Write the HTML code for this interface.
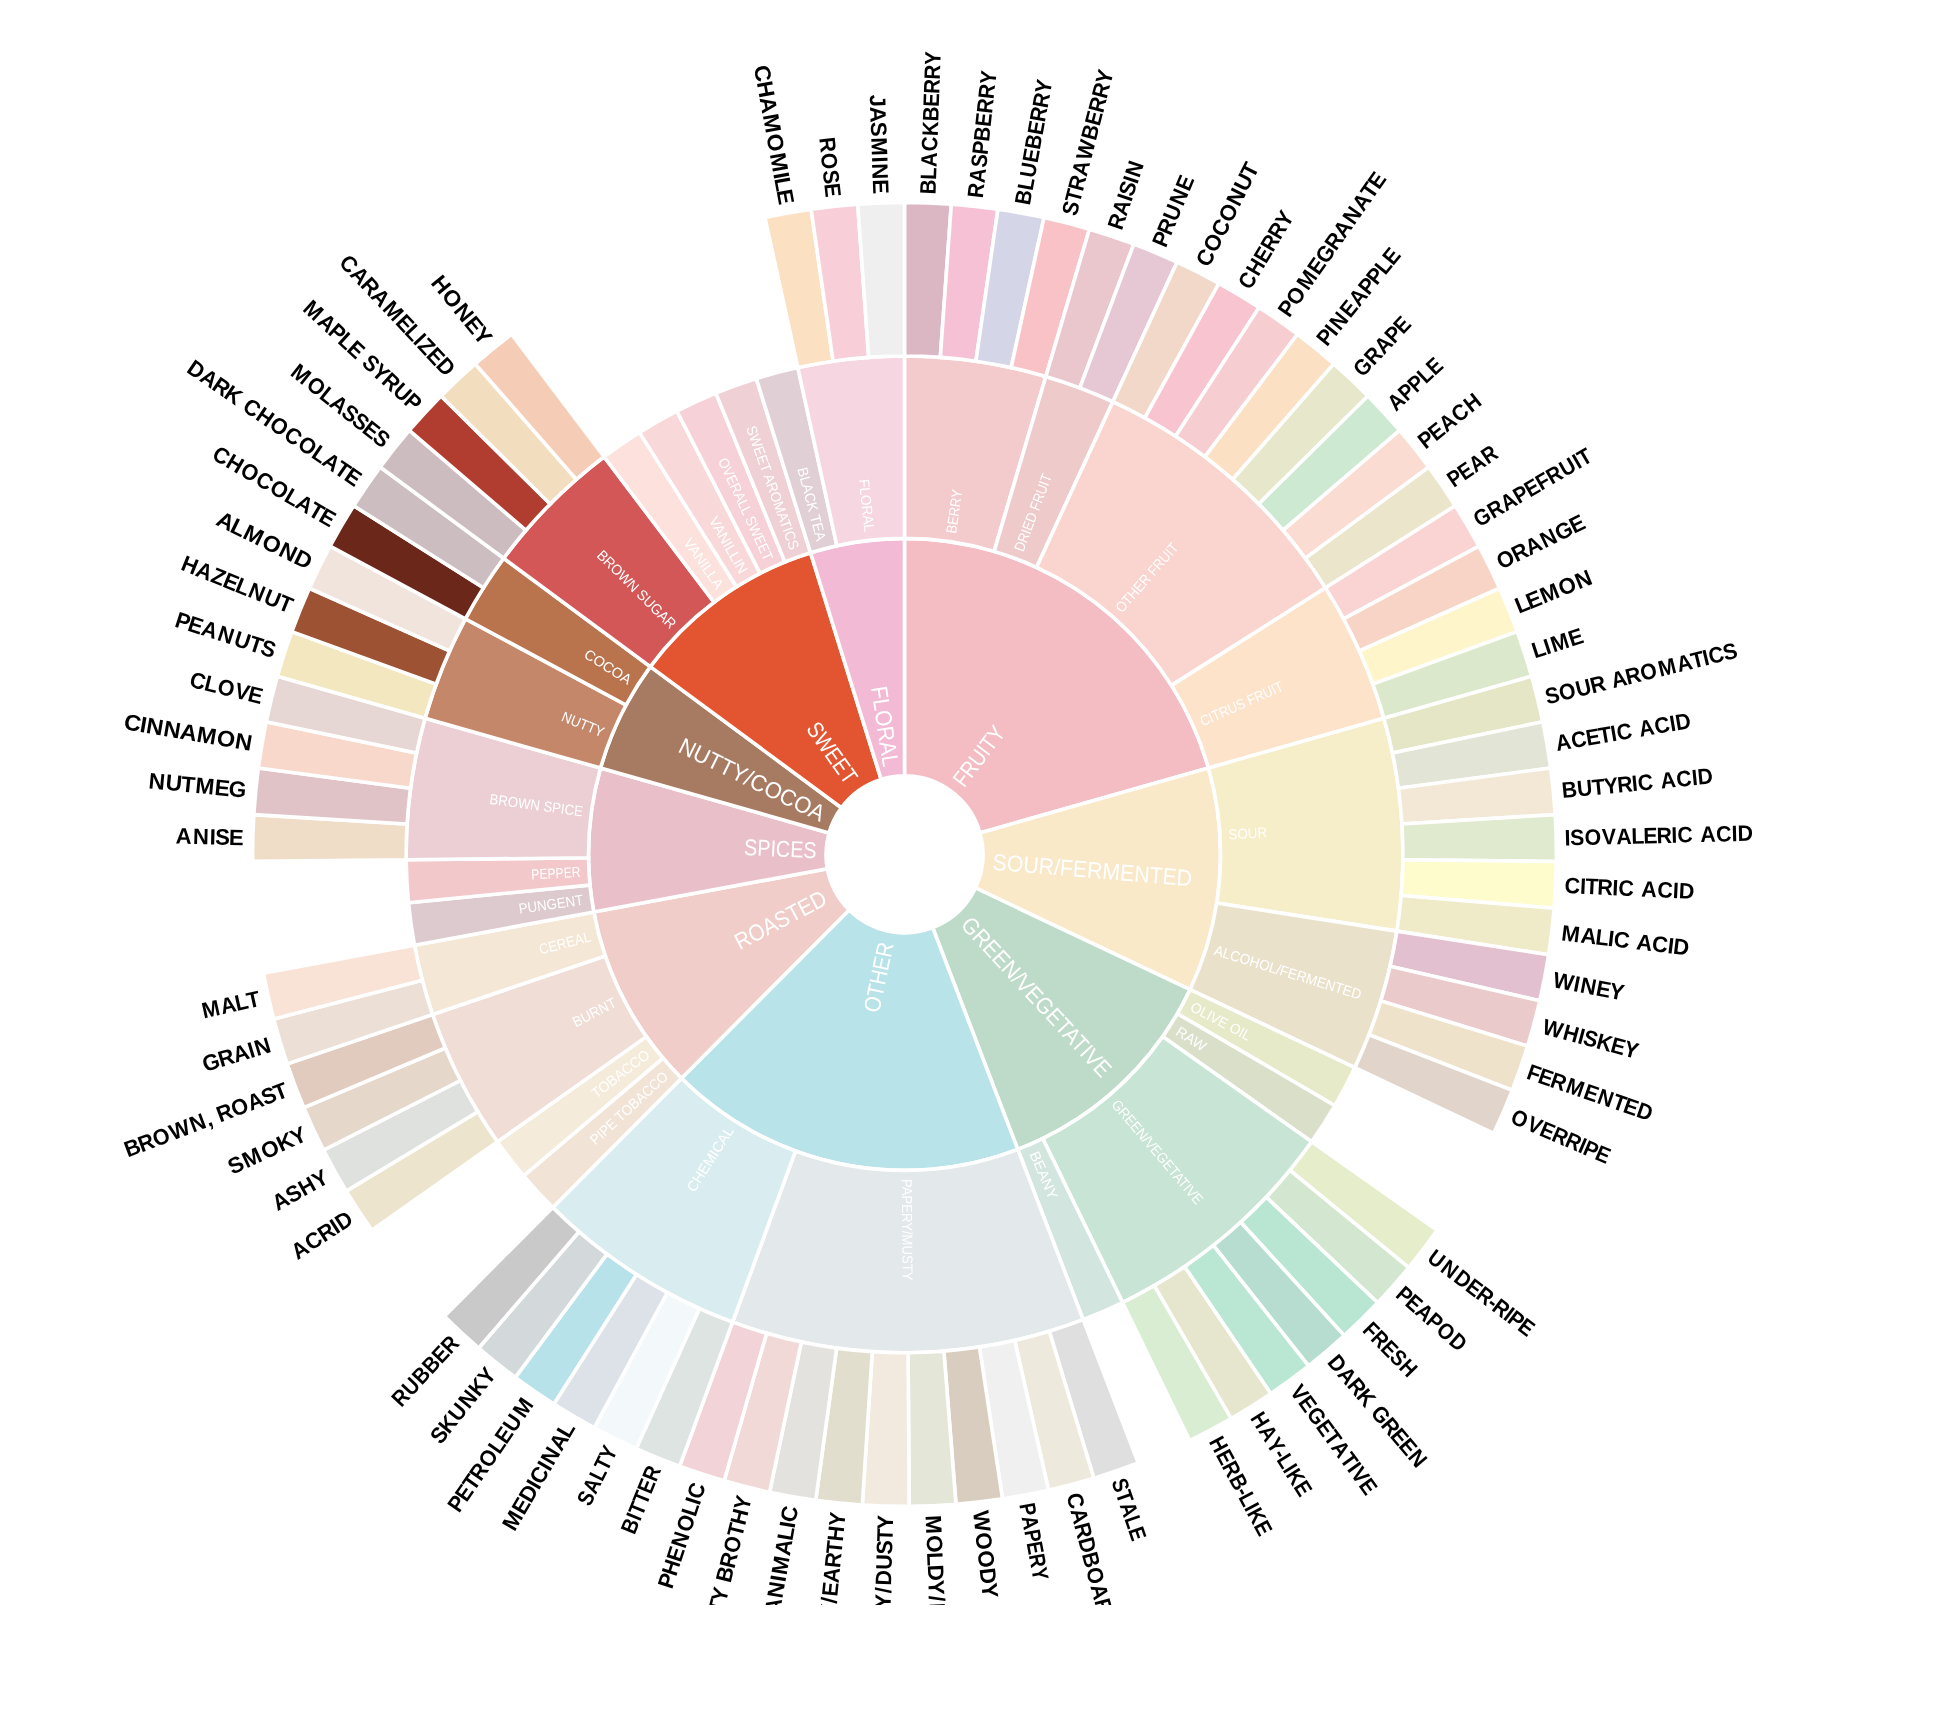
<!DOCTYPE html>
<html><head><meta charset="utf-8"><style>
html,body{margin:0;padding:0;background:#fff;}
svg{display:block;will-change:transform;}
.arcs path{stroke:#fff;stroke-width:3.6;}
text{font-family:"Liberation Sans",sans-serif;dominant-baseline:central;}
.l1{fill:#fff;font-size:23px;}
.l2{fill:#fff;font-size:14.5px;}
.l3{fill:#000;font-size:22.4px;font-weight:bold;}
</style></head>
<body><svg width="1946" height="1733" viewBox="0 0 1946 1733">
<defs><clipPath id="c"><rect x="0" y="0" width="1946" height="1605"/></clipPath></defs>
<g clip-path="url(#c)"><g class="arcs"><path d="M904.50,538.40A316.0,316.0 0 0 1 1208.47,768.05L980.01,832.95A78.5,78.5 0 0 0 904.50,775.90Z" fill="#F4BDC3"/><path d="M1208.47,768.05A316.0,316.0 0 0 1 1190.12,989.60L975.45,887.99A78.5,78.5 0 0 0 980.01,832.95Z" fill="#F9E9C9"/><path d="M1190.12,989.60A316.0,316.0 0 0 1 1017.78,1149.40L932.64,927.68A78.5,78.5 0 0 0 975.45,887.99Z" fill="#BEDBC9"/><path d="M1017.78,1149.40A316.0,316.0 0 0 1 681.46,1078.25L849.09,910.01A78.5,78.5 0 0 0 932.64,927.68Z" fill="#B8E3E9"/><path d="M681.46,1078.25A316.0,316.0 0 0 1 593.79,912.01L827.32,868.71A78.5,78.5 0 0 0 849.09,910.01Z" fill="#F0CDC8"/><path d="M593.79,912.01A316.0,316.0 0 0 1 600.53,768.05L828.99,832.95A78.5,78.5 0 0 0 827.32,868.71Z" fill="#E9C0CA"/><path d="M600.53,768.05A316.0,316.0 0 0 1 650.33,666.64L841.36,807.76A78.5,78.5 0 0 0 828.99,832.95Z" fill="#A77A62"/><path d="M650.33,666.64A316.0,316.0 0 0 1 810.53,552.70L881.16,779.45A78.5,78.5 0 0 0 841.36,807.76Z" fill="#E35531"/><path d="M810.53,552.70A316.0,316.0 0 0 1 904.50,538.40L904.50,775.90A78.5,78.5 0 0 0 881.16,779.45Z" fill="#F3BAD6"/><path d="M904.50,356.05A498.35,498.35 0 0 1 1045.84,376.51L994.12,551.38A316.0,316.0 0 0 0 904.50,538.40Z" fill="#F4CBCC"/><path d="M1045.84,376.51A498.35,498.35 0 0 1 1112.85,401.70L1036.62,567.34A316.0,316.0 0 0 0 994.12,551.38Z" fill="#EECACB"/><path d="M1112.85,401.70A498.35,498.35 0 0 1 1325.58,587.85L1171.50,685.39A316.0,316.0 0 0 0 1036.62,567.34Z" fill="#FAD4CE"/><path d="M1325.58,587.85A498.35,498.35 0 0 1 1383.88,718.22L1208.47,768.05A316.0,316.0 0 0 0 1171.50,685.39Z" fill="#FCE3CA"/><path d="M1383.88,718.22A498.35,498.35 0 0 1 1396.91,931.12L1216.73,903.05A316.0,316.0 0 0 0 1208.47,768.05Z" fill="#F6EDC9"/><path d="M1396.91,931.12A498.35,498.35 0 0 1 1354.93,1067.62L1190.12,989.60A316.0,316.0 0 0 0 1216.73,903.05Z" fill="#EAE1CB"/><path d="M1354.93,1067.62A498.35,498.35 0 0 1 1334.88,1105.64L1177.40,1013.71A316.0,316.0 0 0 0 1190.12,989.60Z" fill="#E6EAC9"/><path d="M1334.88,1105.64A498.35,498.35 0 0 1 1311.64,1141.79L1162.66,1036.63A316.0,316.0 0 0 0 1177.40,1013.71Z" fill="#D9DFC9"/><path d="M1311.64,1141.79A498.35,498.35 0 0 1 1122.57,1302.51L1042.78,1138.54A316.0,316.0 0 0 0 1162.66,1036.63Z" fill="#C7E4D4"/><path d="M1122.57,1302.51A498.35,498.35 0 0 1 1083.15,1319.63L1017.78,1149.40A316.0,316.0 0 0 0 1042.78,1138.54Z" fill="#D3E5DF"/><path d="M1083.15,1319.63A498.35,498.35 0 0 1 732.56,1322.15L795.47,1151.00A316.0,316.0 0 0 0 1017.78,1149.40Z" fill="#E3E8EB"/><path d="M732.56,1322.15A498.35,498.35 0 0 1 552.75,1207.42L681.46,1078.25A316.0,316.0 0 0 0 795.47,1151.00Z" fill="#D9EDF0"/><path d="M552.75,1207.42A498.35,498.35 0 0 1 523.64,1175.80L663.00,1058.20A316.0,316.0 0 0 0 681.46,1078.25Z" fill="#F1E3D6"/><path d="M523.64,1175.80A498.35,498.35 0 0 1 497.36,1141.79L646.34,1036.63A316.0,316.0 0 0 0 663.00,1058.20Z" fill="#F5EBDB"/><path d="M497.36,1141.79A498.35,498.35 0 0 1 432.57,1014.52L605.25,955.93A316.0,316.0 0 0 0 646.34,1036.63Z" fill="#EFDDD6"/><path d="M432.57,1014.52A498.35,498.35 0 0 1 414.50,945.25L593.79,912.01A316.0,316.0 0 0 0 605.25,955.93Z" fill="#F5E7D5"/><path d="M414.50,945.25A498.35,498.35 0 0 1 408.50,902.69L589.99,885.02A316.0,316.0 0 0 0 593.79,912.01Z" fill="#DCCACE"/><path d="M408.50,902.69A498.35,498.35 0 0 1 406.18,859.77L588.52,857.81A316.0,316.0 0 0 0 589.99,885.02Z" fill="#F2C8CA"/><path d="M406.18,859.77A498.35,498.35 0 0 1 425.12,718.22L600.53,768.05A316.0,316.0 0 0 0 588.52,857.81Z" fill="#EBCFD4"/><path d="M425.12,718.22A498.35,498.35 0 0 1 465.36,618.79L626.05,705.00A316.0,316.0 0 0 0 600.53,768.05Z" fill="#C5876A"/><path d="M465.36,618.79A498.35,498.35 0 0 1 503.66,558.30L650.33,666.64A316.0,316.0 0 0 0 626.05,705.00Z" fill="#B9744E"/><path d="M503.66,558.30A498.35,498.35 0 0 1 604.09,456.77L714.01,602.27A316.0,316.0 0 0 0 650.33,666.64Z" fill="#D45757"/><path d="M604.09,456.77A498.35,498.35 0 0 1 639.47,432.37L736.45,586.79A316.0,316.0 0 0 0 714.01,602.27Z" fill="#FCE1DC"/><path d="M639.47,432.37A498.35,498.35 0 0 1 676.82,411.10L760.13,573.31A316.0,316.0 0 0 0 736.45,586.79Z" fill="#F9D8DA"/><path d="M676.82,411.10A498.35,498.35 0 0 1 715.86,393.13L784.89,561.91A316.0,316.0 0 0 0 760.13,573.31Z" fill="#F6D1D8"/><path d="M715.86,393.13A498.35,498.35 0 0 1 756.31,378.59L810.53,552.70A316.0,316.0 0 0 0 784.89,561.91Z" fill="#EFD0D5"/><path d="M756.31,378.59A498.35,498.35 0 0 1 797.85,367.60L836.88,545.72A316.0,316.0 0 0 0 810.53,552.70Z" fill="#E1CFD6"/><path d="M797.85,367.60A498.35,498.35 0 0 1 904.50,356.05L904.50,538.40A316.0,316.0 0 0 0 836.88,545.72Z" fill="#F5D6E1"/><path d="M904.50,202.50A651.9,651.9 0 0 1 951.32,204.18L940.30,357.34A498.35,498.35 0 0 0 904.50,356.05Z" fill="#DBB7C3"/><path d="M951.32,204.18A651.9,651.9 0 0 1 997.91,209.23L975.91,361.19A498.35,498.35 0 0 0 940.30,357.34Z" fill="#F7C1D5"/><path d="M997.91,209.23A651.9,651.9 0 0 1 1044.01,217.60L1011.15,367.60A498.35,498.35 0 0 0 975.91,361.19Z" fill="#D5D5E8"/><path d="M1044.01,217.60A651.9,651.9 0 0 1 1089.39,229.27L1045.84,376.51A498.35,498.35 0 0 0 1011.15,367.60Z" fill="#F9C2C6"/><path d="M1089.39,229.27A651.9,651.9 0 0 1 1133.81,244.16L1079.80,387.90A498.35,498.35 0 0 0 1045.84,376.51Z" fill="#EAC6CD"/><path d="M1133.81,244.16A651.9,651.9 0 0 1 1177.05,262.21L1112.85,401.70A498.35,498.35 0 0 0 1079.80,387.90Z" fill="#E6C8D5"/><path d="M1177.05,262.21A651.9,651.9 0 0 1 1218.88,283.32L1144.83,417.83A498.35,498.35 0 0 0 1112.85,401.70Z" fill="#F1D8C9"/><path d="M1218.88,283.32A651.9,651.9 0 0 1 1259.09,307.37L1175.57,436.22A498.35,498.35 0 0 0 1144.83,417.83Z" fill="#F7C4D0"/><path d="M1259.09,307.37A651.9,651.9 0 0 1 1297.47,334.26L1204.91,456.77A498.35,498.35 0 0 0 1175.57,436.22Z" fill="#F6CED2"/><path d="M1297.47,334.26A651.9,651.9 0 0 1 1333.81,363.83L1232.69,479.38A498.35,498.35 0 0 0 1204.91,456.77Z" fill="#FBE0C4"/><path d="M1333.81,363.83A651.9,651.9 0 0 1 1367.94,395.93L1258.78,503.92A498.35,498.35 0 0 0 1232.69,479.38Z" fill="#E7E8CB"/><path d="M1367.94,395.93A651.9,651.9 0 0 1 1399.68,430.40L1283.04,530.27A498.35,498.35 0 0 0 1258.78,503.92Z" fill="#CDE9D2"/><path d="M1399.68,430.40A651.9,651.9 0 0 1 1428.85,467.06L1305.34,558.30A498.35,498.35 0 0 0 1283.04,530.27Z" fill="#FBDCD3"/><path d="M1428.85,467.06A651.9,651.9 0 0 1 1455.32,505.73L1325.58,587.85A498.35,498.35 0 0 0 1305.34,558.30Z" fill="#EAE5CB"/><path d="M1455.32,505.73A651.9,651.9 0 0 1 1478.94,546.19L1343.64,618.79A498.35,498.35 0 0 0 1325.58,587.85Z" fill="#FAD3D3"/><path d="M1478.94,546.19A651.9,651.9 0 0 1 1499.59,588.25L1359.42,650.94A498.35,498.35 0 0 0 1343.64,618.79Z" fill="#F7D4C5"/><path d="M1499.59,588.25A651.9,651.9 0 0 1 1517.17,631.68L1372.86,684.14A498.35,498.35 0 0 0 1359.42,650.94Z" fill="#FEF5CA"/><path d="M1517.17,631.68A651.9,651.9 0 0 1 1531.59,676.26L1383.88,718.22A498.35,498.35 0 0 0 1372.86,684.14Z" fill="#DCE8CB"/><path d="M1531.59,676.26A651.9,651.9 0 0 1 1542.76,721.77L1392.43,753.01A498.35,498.35 0 0 0 1383.88,718.22Z" fill="#E5E6C6"/><path d="M1542.76,721.77A651.9,651.9 0 0 1 1550.64,767.95L1398.45,788.32A498.35,498.35 0 0 0 1392.43,753.01Z" fill="#E2E4D6"/><path d="M1550.64,767.95A651.9,651.9 0 0 1 1555.18,814.59L1401.92,823.97A498.35,498.35 0 0 0 1398.45,788.32Z" fill="#F2E8D5"/><path d="M1555.18,814.59A651.9,651.9 0 0 1 1556.36,861.43L1402.82,859.77A498.35,498.35 0 0 0 1401.92,823.97Z" fill="#E0EACF"/><path d="M1556.36,861.43A651.9,651.9 0 0 1 1554.17,908.23L1401.15,895.55A498.35,498.35 0 0 0 1402.82,859.77Z" fill="#FEFBCC"/><path d="M1554.17,908.23A651.9,651.9 0 0 1 1548.63,954.76L1396.91,931.12A498.35,498.35 0 0 0 1401.15,895.55Z" fill="#EFEAC8"/><path d="M1548.63,954.76A651.9,651.9 0 0 1 1539.76,1000.77L1390.13,966.29A498.35,498.35 0 0 0 1396.91,931.12Z" fill="#E2C0D0"/><path d="M1539.76,1000.77A651.9,651.9 0 0 1 1527.60,1046.02L1380.84,1000.88A498.35,498.35 0 0 0 1390.13,966.29Z" fill="#EACACA"/><path d="M1527.60,1046.02A651.9,651.9 0 0 1 1512.23,1090.28L1369.08,1034.72A498.35,498.35 0 0 0 1380.84,1000.88Z" fill="#EEE2CB"/><path d="M1512.23,1090.28A651.9,651.9 0 0 1 1493.72,1133.32L1354.93,1067.62A498.35,498.35 0 0 0 1369.08,1034.72Z" fill="#E1D5CB"/><path d="M1437.08,1230.34A651.9,651.9 0 0 1 1408.70,1267.62L1289.94,1170.29A498.35,498.35 0 0 0 1311.64,1141.79Z" fill="#E6EDCB"/><path d="M1408.70,1267.62A651.9,651.9 0 0 1 1377.72,1302.77L1266.26,1197.16A498.35,498.35 0 0 0 1289.94,1170.29Z" fill="#D3E7D0"/><path d="M1377.72,1302.77A651.9,651.9 0 0 1 1344.29,1335.60L1240.70,1222.26A498.35,498.35 0 0 0 1266.26,1197.16Z" fill="#B9E6D3"/><path d="M1344.29,1335.60A651.9,651.9 0 0 1 1308.59,1365.95L1213.41,1245.46A498.35,498.35 0 0 0 1240.70,1222.26Z" fill="#B6DDCF"/><path d="M1308.59,1365.95A651.9,651.9 0 0 1 1270.81,1393.65L1184.53,1266.64A498.35,498.35 0 0 0 1213.41,1245.46Z" fill="#B9E7D3"/><path d="M1270.81,1393.65A651.9,651.9 0 0 1 1231.13,1418.57L1154.19,1285.68A498.35,498.35 0 0 0 1184.53,1266.64Z" fill="#E6E6CE"/><path d="M1231.13,1418.57A651.9,651.9 0 0 1 1189.76,1440.57L1122.57,1302.51A498.35,498.35 0 0 0 1154.19,1285.68Z" fill="#D8EDD1"/><path d="M1138.19,1462.97A651.9,651.9 0 0 1 1093.88,1478.19L1049.27,1331.26A498.35,498.35 0 0 0 1083.15,1319.63Z" fill="#DFDFDF"/><path d="M1093.88,1478.19A651.9,651.9 0 0 1 1048.58,1490.18L1014.64,1340.43A498.35,498.35 0 0 0 1049.27,1331.26Z" fill="#EDEADD"/><path d="M1048.58,1490.18A651.9,651.9 0 0 1 1002.54,1498.89L979.45,1347.08A498.35,498.35 0 0 0 1014.64,1340.43Z" fill="#F0F0F0"/><path d="M1002.54,1498.89A651.9,651.9 0 0 1 956.00,1504.26L943.87,1351.19A498.35,498.35 0 0 0 979.45,1347.08Z" fill="#D9CDBF"/><path d="M956.00,1504.26A651.9,651.9 0 0 1 909.19,1506.28L908.08,1352.74A498.35,498.35 0 0 0 943.87,1351.19Z" fill="#E4E6D8"/><path d="M909.19,1506.28A651.9,651.9 0 0 1 862.35,1504.94L872.28,1351.71A498.35,498.35 0 0 0 908.08,1352.74Z" fill="#F2EADF"/><path d="M862.35,1504.94A651.9,651.9 0 0 1 815.73,1500.23L836.64,1348.11A498.35,498.35 0 0 0 872.28,1351.71Z" fill="#E1DECD"/><path d="M815.73,1500.23A651.9,651.9 0 0 1 769.57,1492.18L801.35,1341.96A498.35,498.35 0 0 0 836.64,1348.11Z" fill="#E3E2DE"/><path d="M769.57,1492.18A651.9,651.9 0 0 1 724.11,1480.85L766.60,1333.29A498.35,498.35 0 0 0 801.35,1341.96Z" fill="#F0D9D7"/><path d="M724.11,1480.85A651.9,651.9 0 0 1 679.58,1466.27L732.56,1322.15A498.35,498.35 0 0 0 766.60,1333.29Z" fill="#F2D3D8"/><path d="M679.58,1466.27A651.9,651.9 0 0 1 636.21,1448.53L699.41,1308.59A498.35,498.35 0 0 0 732.56,1322.15Z" fill="#DDE4E2"/><path d="M636.21,1448.53A651.9,651.9 0 0 1 594.23,1427.73L667.31,1292.69A498.35,498.35 0 0 0 699.41,1308.59Z" fill="#F3F8FB"/><path d="M594.23,1427.73A651.9,651.9 0 0 1 553.85,1403.96L636.44,1274.52A498.35,498.35 0 0 0 667.31,1292.69Z" fill="#DCE2E8"/><path d="M553.85,1403.96A651.9,651.9 0 0 1 515.28,1377.36L606.96,1254.18A498.35,498.35 0 0 0 636.44,1274.52Z" fill="#B7E2E9"/><path d="M515.28,1377.36A651.9,651.9 0 0 1 478.72,1348.05L579.01,1231.77A498.35,498.35 0 0 0 606.96,1254.18Z" fill="#D3D9DB"/><path d="M478.72,1348.05A651.9,651.9 0 0 1 444.37,1316.19L552.75,1207.42A498.35,498.35 0 0 0 579.01,1231.77Z" fill="#C9C9C9"/><path d="M371.92,1230.34A651.9,651.9 0 0 1 346.29,1191.11L477.77,1111.80A498.35,498.35 0 0 0 497.36,1141.79Z" fill="#EDE4CE"/><path d="M346.29,1191.11A651.9,651.9 0 0 1 323.55,1150.15L460.39,1080.49A498.35,498.35 0 0 0 477.77,1111.80Z" fill="#DFE1DF"/><path d="M323.55,1150.15A651.9,651.9 0 0 1 303.80,1107.65L445.29,1048.00A498.35,498.35 0 0 0 460.39,1080.49Z" fill="#E6D7CB"/><path d="M303.80,1107.65A651.9,651.9 0 0 1 287.16,1063.85L432.57,1014.52A498.35,498.35 0 0 0 445.29,1048.00Z" fill="#E0CBBE"/><path d="M287.16,1063.85A651.9,651.9 0 0 1 273.71,1018.97L422.29,980.21A498.35,498.35 0 0 0 432.57,1014.52Z" fill="#EBDFD6"/><path d="M273.71,1018.97A651.9,651.9 0 0 1 263.52,973.24L414.50,945.25A498.35,498.35 0 0 0 422.29,980.21Z" fill="#F9E2D6"/><path d="M252.64,861.43A651.9,651.9 0 0 1 253.82,814.59L407.08,823.97A498.35,498.35 0 0 0 406.18,859.77Z" fill="#EFDDC8"/><path d="M253.82,814.59A651.9,651.9 0 0 1 258.36,767.95L410.55,788.32A498.35,498.35 0 0 0 407.08,823.97Z" fill="#E0C3C7"/><path d="M258.36,767.95A651.9,651.9 0 0 1 266.24,721.77L416.57,753.01A498.35,498.35 0 0 0 410.55,788.32Z" fill="#F8D8CB"/><path d="M266.24,721.77A651.9,651.9 0 0 1 277.41,676.26L425.12,718.22A498.35,498.35 0 0 0 416.57,753.01Z" fill="#E6D6D4"/><path d="M277.41,676.26A651.9,651.9 0 0 1 291.83,631.68L436.14,684.14A498.35,498.35 0 0 0 425.12,718.22Z" fill="#F2E7BF"/><path d="M291.83,631.68A651.9,651.9 0 0 1 309.41,588.25L449.58,650.94A498.35,498.35 0 0 0 436.14,684.14Z" fill="#9C5233"/><path d="M309.41,588.25A651.9,651.9 0 0 1 330.06,546.19L465.36,618.79A498.35,498.35 0 0 0 449.58,650.94Z" fill="#F0E4DC"/><path d="M330.06,546.19A651.9,651.9 0 0 1 353.68,505.73L483.42,587.85A498.35,498.35 0 0 0 465.36,618.79Z" fill="#6B2719"/><path d="M353.68,505.73A651.9,651.9 0 0 1 380.15,467.06L503.66,558.30A498.35,498.35 0 0 0 483.42,587.85Z" fill="#CCBDC0"/><path d="M380.15,467.06A651.9,651.9 0 0 1 409.32,430.40L525.96,530.27A498.35,498.35 0 0 0 503.66,558.30Z" fill="#CCBCBF"/><path d="M409.32,430.40A651.9,651.9 0 0 1 441.06,395.93L550.22,503.92A498.35,498.35 0 0 0 525.96,530.27Z" fill="#B03D2F"/><path d="M441.06,395.93A651.9,651.9 0 0 1 475.19,363.83L576.31,479.38A498.35,498.35 0 0 0 550.22,503.92Z" fill="#F3DDBF"/><path d="M475.19,363.83A651.9,651.9 0 0 1 511.53,334.26L604.09,456.77A498.35,498.35 0 0 0 576.31,479.38Z" fill="#F5CDB7"/><path d="M764.99,217.60A651.9,651.9 0 0 1 811.09,209.23L833.09,361.19A498.35,498.35 0 0 0 797.85,367.60Z" fill="#FBE1C2"/><path d="M811.09,209.23A651.9,651.9 0 0 1 857.68,204.18L868.70,357.34A498.35,498.35 0 0 0 833.09,361.19Z" fill="#F8CFD9"/><path d="M857.68,204.18A651.9,651.9 0 0 1 904.50,202.50L904.50,356.05A498.35,498.35 0 0 0 868.70,357.34Z" fill="#EFEFEF"/></g>
<text class="l3" x="725.30 741.32 755.25 772.57 789.37 805.53 821.46 835.86 851.53 867.29" transform="translate(904.5,854.4) rotate(-87.941) scale(0.9107,1)">BLACKBERRY</text><text class="l3" x="727.38 744.14 760.92 775.33 790.02 806.31 821.05 837.07 853.17" transform="translate(904.5,854.4) rotate(-83.822) scale(0.9080,1)">RASPBERRY</text><text class="l3" x="726.77 742.94 757.23 773.94 788.79 804.89 819.44 835.28 851.18" transform="translate(904.5,854.4) rotate(-79.703) scale(0.9090,1)">BLUEBERRY</text><text class="l3" x="709.99 724.42 737.55 753.97 771.72 794.03 810.00 824.43 840.14 855.92" transform="translate(904.5,854.4) rotate(-75.584) scale(0.9300,1)">STRAWBERRY</text><text class="l2" x="324.5" transform="translate(904.5,854.4) rotate(-81.762)" text-anchor="start" textLength="44.28" lengthAdjust="spacingAndGlyphs">BERRY</text><text class="l3" x="703.74 719.58 735.78 741.40 755.74 762.91" transform="translate(904.5,854.4) rotate(-71.465) scale(0.9379,1)">RAISIN</text><text class="l3" x="700.03 713.75 729.96 747.80 764.73" transform="translate(904.5,854.4) rotate(-67.346) scale(0.9425,1)">PRUNE</text><text class="l2" x="324.5" transform="translate(904.5,854.4) rotate(-69.405)" text-anchor="start" textLength="81.67" lengthAdjust="spacingAndGlyphs">DRIED FRUIT</text><text class="l3" x="667.71 684.09 701.73 718.11 736.41 753.07 768.24" transform="translate(904.5,854.4) rotate(-63.227) scale(0.9891,1)">COCONUT</text><text class="l3" x="720.41 737.66 753.96 768.30 783.91 799.61" transform="translate(904.5,854.4) rotate(-59.108) scale(0.9177,1)">CHERRY</text><text class="l3" x="688.49 703.20 722.85 742.42 756.77 773.62 789.27 806.51 823.74 839.37 851.82" transform="translate(904.5,854.4) rotate(-54.989) scale(0.9580,1)">POMEGRANATE</text><text class="l3" x="711.33 725.73 733.49 751.02 766.35 782.57 796.42 810.70 824.08" transform="translate(904.5,854.4) rotate(-50.870) scale(0.9278,1)">PINEAPPLE</text><text class="l3" x="723.22 740.95 757.45 773.56 787.67" transform="translate(904.5,854.4) rotate(-46.751) scale(0.9139,1)">GRAPE</text><text class="l3" x="738.09 754.65 768.81 783.40 797.09" transform="translate(904.5,854.4) rotate(-42.632) scale(0.8958,1)">APPLE</text><text class="l3" x="708.70 722.48 737.32 754.34 771.37" transform="translate(904.5,854.4) rotate(-38.513) scale(0.9310,1)">PEACH</text><text class="l3" x="745.55 759.89 775.38 792.15" transform="translate(904.5,854.4) rotate(-34.394) scale(0.8854,1)">PEAR</text><text class="l2" x="324.5" transform="translate(904.5,854.4) rotate(-48.810)" text-anchor="start" textLength="86.91" lengthAdjust="spacingAndGlyphs">OTHER FRUIT</text><text class="l3" x="723.58 741.32 757.83 773.94 788.07 802.53 815.77 832.47 849.35 855.27" transform="translate(904.5,854.4) rotate(-30.275) scale(0.9135,1)">GRAPEFRUIT</text><text class="l3" x="680.58 697.91 713.38 730.41 747.39 764.05" transform="translate(904.5,854.4) rotate(-26.156) scale(0.9713,1)">ORANGE</text><text class="l3" x="661.18 673.10 688.07 707.96 726.16" transform="translate(904.5,854.4) rotate(-22.037) scale(0.9977,1)">LEMON</text><text class="l3" x="684.34 697.26 704.71 724.13" transform="translate(904.5,854.4) rotate(-17.918) scale(0.9644,1)">LIME</text><text class="l2" x="324.5" transform="translate(904.5,854.4) rotate(-24.096)" text-anchor="start" textLength="89.41" lengthAdjust="spacingAndGlyphs">CITRUS FRUIT</text><text class="l1" x="88.5" transform="translate(904.5,854.4) rotate(-52.929)" text-anchor="start" textLength="69.50" lengthAdjust="spacingAndGlyphs">FRUITY</text><text class="l3" x="694.83 709.77 727.98 743.66 759.63 766.32 781.81 797.92 817.36 837.42 852.91 865.69 871.90 887.68" transform="translate(904.5,854.4) rotate(-13.799) scale(0.9498,1)">SOUR AROMATICS</text><text class="l3" x="696.53 713.06 728.90 742.60 755.47 761.80 778.77 785.58 802.11 818.38 824.53" transform="translate(904.5,854.4) rotate(-9.680) scale(0.9484,1)">ACETIC ACID</text><text class="l3" x="697.79 714.08 730.06 742.76 756.76 772.26 778.71 795.83 802.77 819.49 835.90 842.17" transform="translate(904.5,854.4) rotate(-5.561) scale(0.9462,1)">BUTYRIC ACID</text><text class="l3" x="693.58 699.15 714.38 732.68 747.85 763.70 776.36 790.19 805.65 812.06 829.12 836.02 852.68 869.04 875.27" transform="translate(904.5,854.4) rotate(-1.442) scale(0.9521,1)">ISOVALERIC ACID</text><text class="l3" x="686.81 703.12 708.57 721.07 736.49 742.85 759.87 766.72 783.31 799.63 805.82" transform="translate(904.5,854.4) rotate(2.677) scale(0.9621,1)">CITRIC ACID</text><text class="l3" x="672.88 692.57 707.89 720.61 726.61 743.23 749.70 765.75 781.70 787.53" transform="translate(904.5,854.4) rotate(6.796) scale(0.9834,1)">MALIC ACID</text><text class="l2" x="324.5" transform="translate(904.5,854.4) rotate(-3.501)" text-anchor="start" textLength="38.80" lengthAdjust="spacingAndGlyphs">SOUR</text><text class="l3" x="677.80 699.21 706.16 722.61 736.35" transform="translate(904.5,854.4) rotate(10.915) scale(0.9752,1)">WINEY</text><text class="l3" x="699.07 721.46 737.90 743.72 758.17 773.77 788.05" transform="translate(904.5,854.4) rotate(15.034) scale(0.9460,1)">WHISKEY</text><text class="l3" x="701.70 714.38 728.32 745.69 765.52 781.08 797.85 810.49 825.16" transform="translate(904.5,854.4) rotate(19.153) scale(0.9406,1)">FERMENTED</text><text class="l3" x="719.81 738.85 753.95 768.41 784.14 800.06 805.63 819.70" transform="translate(904.5,854.4) rotate(23.272) scale(0.9191,1)">OVERRIPE</text><text class="l2" x="324.5" transform="translate(904.5,854.4) rotate(17.094)" text-anchor="start" textLength="153.21" lengthAdjust="spacingAndGlyphs">ALCOHOL/FERMENTED</text><text class="l1" x="88.5" transform="translate(904.5,854.4) rotate(4.737)" text-anchor="start" textLength="200.10" lengthAdjust="spacingAndGlyphs">SOUR/FERMENTED</text><text class="l2" x="324.5" transform="translate(904.5,854.4) rotate(27.803)" text-anchor="start" textLength="66.28" lengthAdjust="spacingAndGlyphs">OLIVE OIL</text><text class="l2" x="324.5" transform="translate(904.5,854.4) rotate(32.746)" text-anchor="start" textLength="32.81" lengthAdjust="spacingAndGlyphs">RAW</text><text class="l3" x="723.27 741.44 759.45 775.78 790.12 805.47 812.11 827.95 833.45 847.41" transform="translate(904.5,854.4) rotate(37.277) scale(0.9140,1)">UNDER-RIPE</text><text class="l3" x="732.64 746.50 761.43 777.26 792.52 811.38" transform="translate(904.5,854.4) rotate(41.396) scale(0.9006,1)">PEAPOD</text><text class="l3" x="751.58 764.93 780.80 795.47 810.91" transform="translate(904.5,854.4) rotate(45.515) scale(0.8786,1)">FRESH</text><text class="l3" x="706.65 723.27 739.16 754.54 770.98 777.93 795.03 810.21 824.14 839.70" transform="translate(904.5,854.4) rotate(49.634) scale(0.9350,1)">DARK GREEN</text><text class="l3" x="721.31 736.33 751.39 768.94 783.24 797.02 813.30 826.59 833.15 848.17" transform="translate(904.5,854.4) rotate(53.753) scale(0.9162,1)">VEGETATIVE</text><text class="l3" x="737.51 754.73 771.31 785.63 792.42 805.92 812.12 828.05" transform="translate(904.5,854.4) rotate(57.872) scale(0.8962,1)">HAY-LIKE</text><text class="l3" x="737.60 754.26 768.95 785.22 801.14 808.06 821.68 828.01 844.12" transform="translate(904.5,854.4) rotate(61.991) scale(0.8962,1)">HERB-LIKE</text><text class="l2" x="324.5" transform="translate(904.5,854.4) rotate(49.634)" text-anchor="start" textLength="132.17" lengthAdjust="spacingAndGlyphs">GREEN/VEGETATIVE</text><text class="l2" x="324.5" transform="translate(904.5,854.4) rotate(66.522)" text-anchor="start" textLength="50.40" lengthAdjust="spacingAndGlyphs">BEANY</text><text class="l1" x="90.0" transform="translate(904.5,854.4) rotate(47.162)" text-anchor="start" textLength="208.50" lengthAdjust="spacingAndGlyphs">GREEN/VEGETATIVE</text><text class="l3" x="760.03 774.65 788.70 805.37 818.78" transform="translate(904.5,854.4) rotate(71.053) scale(0.8689,1)">STALE</text><text class="l3" x="692.44 709.02 724.70 740.41 756.42 773.02 791.26 806.95 822.66" transform="translate(904.5,854.4) rotate(75.172) scale(0.9543,1)">CARDBOARD</text><text class="l3" x="781.63 796.92 813.45 827.95 842.86 859.13" transform="translate(904.5,854.4) rotate(79.291) scale(0.8446,1)">PAPERY</text><text class="l3" x="659.95 681.63 699.81 717.44 732.70" transform="translate(904.5,854.4) rotate(83.410) scale(1.0011,1)">WOODY</text><text class="l3" x="660.30 680.23 697.11 709.72 724.79 740.37 747.79 763.38 780.25 798.67" transform="translate(904.5,854.4) rotate(87.529) scale(1.0018,1)">MOLDY/DAMP</text><text class="l3" x="-847.66 -827.34 -811.54 -797.85 -785.38 -769.32 -761.37 -744.93 -729.12 -715.43 -702.96" transform="translate(904.5,854.4) rotate(271.648) scale(0.9607,1)">MUSTY/DUSTY</text><text class="l3" x="-872.23 -851.71 -835.75 -821.91 -809.30 -793.11 -785.75 -771.28 -755.57 -740.57 -727.36 -711.54" transform="translate(904.5,854.4) rotate(275.767) scale(0.9490,1)">MUSTY/EARTHY</text><text class="l3" x="-772.09 -755.48 -738.94 -731.88 -712.32 -697.10 -684.45 -678.53" transform="translate(904.5,854.4) rotate(279.886) scale(0.9987,1)">ANIMALIC</text><text class="l3" x="-878.77 -859.03 -844.47 -828.70 -816.01 -800.95 -794.42 -779.01 -762.57 -744.90 -731.62 -715.71" transform="translate(904.5,854.4) rotate(284.005) scale(0.9434,1)">MEATY BROTHY</text><text class="l3" x="-821.01 -806.89 -791.19 -775.82 -757.90 -740.22 -727.20 -720.84" transform="translate(904.5,854.4) rotate(288.124) scale(0.9392,1)">PHENOLIC</text><text class="l2" x="324.5" transform="translate(904.5,854.4) rotate(89.588)" text-anchor="start" textLength="101.50" lengthAdjust="spacingAndGlyphs">PAPERY/MUSTY</text><text class="l3" x="-830.99 -814.47 -808.33 -794.91 -781.43 -766.57" transform="translate(904.5,854.4) rotate(292.243) scale(0.8815,1)">BITTER</text><text class="l3" x="-845.71 -830.32 -813.70 -800.39 -787.03" transform="translate(904.5,854.4) rotate(296.362) scale(0.8567,1)">SALTY</text><text class="l3" x="-799.55 -780.40 -766.31 -750.46 -744.40 -728.38 -721.64 -704.81 -689.40" transform="translate(904.5,854.4) rotate(300.481) scale(0.9780,1)">MEDICINAL</text><text class="l3" x="-838.75 -825.09 -811.12 -798.38 -781.76 -763.81 -750.97 -736.07 -717.72" transform="translate(904.5,854.4) rotate(304.600) scale(0.9486,1)">PETROLEUM</text><text class="l3" x="-797.27 -783.09 -766.86 -749.20 -732.23 -716.78" transform="translate(904.5,854.4) rotate(308.719) scale(0.9420,1)">SKUNKY</text><text class="l3" x="-830.57 -813.97 -797.08 -780.80 -764.85 -750.43" transform="translate(904.5,854.4) rotate(312.838) scale(0.9006,1)">RUBBER</text><text class="l2" x="-324.5" transform="translate(904.5,854.4) rotate(302.540)" text-anchor="end" textLength="73.90" lengthAdjust="spacingAndGlyphs">CHEMICAL</text><text class="l1" x="-90.0" transform="translate(904.5,854.4) rotate(281.945)" text-anchor="end" textLength="71.00" lengthAdjust="spacingAndGlyphs">OTHER</text><text class="l2" x="-324.5" transform="translate(904.5,854.4) rotate(317.368)" text-anchor="end" textLength="100.01" lengthAdjust="spacingAndGlyphs">PIPE TOBACCO</text><text class="l2" x="-324.5" transform="translate(904.5,854.4) rotate(322.311)" text-anchor="end" textLength="69.05" lengthAdjust="spacingAndGlyphs">TOBACCO</text><text class="l3" x="-752.76 -736.07 -720.07 -704.59 -698.34" transform="translate(904.5,854.4) rotate(326.842) scale(0.9700,1)">ACRID</text><text class="l3" x="-744.64 -728.49 -713.56 -697.36" transform="translate(904.5,854.4) rotate(330.961) scale(0.9689,1)">ASHY</text><text class="l3" x="-740.63 -725.03 -704.51 -687.12 -672.13" transform="translate(904.5,854.4) rotate(335.080) scale(1.0056,1)">SMOKY</text><text class="l3" x="-863.09 -848.00 -831.89 -813.42 -790.95 -773.85 -767.11 -761.09 -744.98 -726.96 -711.39 -697.75" transform="translate(904.5,854.4) rotate(339.199) scale(0.9660,1)">BROWN, ROAST</text><text class="l2" x="-324.5" transform="translate(904.5,854.4) rotate(333.021)" text-anchor="end" textLength="47.00" lengthAdjust="spacingAndGlyphs">BURNT</text><text class="l3" x="-745.63 -728.92 -713.40 -697.43 -690.50" transform="translate(904.5,854.4) rotate(343.318) scale(0.9823,1)">GRAIN</text><text class="l3" x="-752.38 -732.41 -716.87 -704.50" transform="translate(904.5,854.4) rotate(347.437) scale(0.9566,1)">MALT</text><text class="l2" x="-324.5" transform="translate(904.5,854.4) rotate(345.378)" text-anchor="end" textLength="53.07" lengthAdjust="spacingAndGlyphs">CEREAL</text><text class="l1" x="-90.0" transform="translate(904.5,854.4) rotate(332.197)" text-anchor="end" textLength="100.50" lengthAdjust="spacingAndGlyphs">ROASTED</text><text class="l2" x="-324.5" transform="translate(904.5,854.4) rotate(351.968)" text-anchor="end" textLength="65.00" lengthAdjust="spacingAndGlyphs">PUNGENT</text><text class="l2" x="-324.5" transform="translate(904.5,854.4) rotate(356.911)" text-anchor="end" textLength="49.20" lengthAdjust="spacingAndGlyphs">PEPPER</text><text class="l3" x="-737.22 -719.85 -702.77 -697.19 -683.29" transform="translate(904.5,854.4) rotate(361.442) scale(0.9889,1)">ANISE</text><text class="l3" x="-746.86 -729.98 -714.62 -700.57 -681.55 -667.68" transform="translate(904.5,854.4) rotate(365.561) scale(1.0169,1)">NUTMEG</text><text class="l3" x="-752.35 -736.97 -730.91 -714.21 -698.36 -682.11 -662.85 -645.21" transform="translate(904.5,854.4) rotate(369.680) scale(1.0520,1)">CINNAMON</text><text class="l3" x="-763.86 -747.87 -733.95 -715.75 -701.34" transform="translate(904.5,854.4) rotate(373.799) scale(0.9629,1)">CLOVE</text><text class="l2" x="-324.5" transform="translate(904.5,854.4) rotate(367.620)" text-anchor="end" textLength="94.00" lengthAdjust="spacingAndGlyphs">BROWN SPICE</text><text class="l1" x="-88.0" transform="translate(904.5,854.4) rotate(362.677)" text-anchor="end" textLength="72.50" lengthAdjust="spacingAndGlyphs">SPICES</text><text class="l3" x="-793.22 -779.47 -764.67 -746.97 -729.08 -712.88 -700.00" transform="translate(904.5,854.4) rotate(377.918) scale(0.9651,1)">PEANUTS</text><text class="l3" x="-800.11 -783.81 -767.14 -753.66 -739.86 -725.72 -708.33 -692.54" transform="translate(904.5,854.4) rotate(382.037) scale(0.9735,1)">HAZELNUT</text><text class="l3" x="-731.19 -716.25 -702.51 -682.75 -664.66 -648.35" transform="translate(904.5,854.4) rotate(386.156) scale(1.0458,1)">ALMOND</text><text class="l2" x="-324.5" transform="translate(904.5,854.4) rotate(382.037)" text-anchor="end" textLength="44.58" lengthAdjust="spacingAndGlyphs">NUTTY</text><text class="l3" x="-823.60 -807.14 -790.28 -771.96 -754.89 -737.36 -724.19 -708.64 -696.27" transform="translate(904.5,854.4) rotate(390.275) scale(0.9700,1)">CHOCOLATE</text><text class="l3" x="-899.99 -883.64 -868.00 -852.87 -836.61 -829.59 -813.06 -796.10 -777.70 -760.54 -742.93 -729.69 -714.07 -701.63" transform="translate(904.5,854.4) rotate(394.394) scale(0.9625,1)">DARK CHOCOLATE</text><text class="l2" x="-324.5" transform="translate(904.5,854.4) rotate(392.334)" text-anchor="end" textLength="52.69" lengthAdjust="spacingAndGlyphs">COCOA</text><text class="l1" x="-90.0" transform="translate(904.5,854.4) rotate(386.156)" text-anchor="end" textLength="159.50" lengthAdjust="spacingAndGlyphs">NUTTY/COCOA</text><text class="l3" x="-815.33 -794.31 -776.58 -763.22 -747.41 -733.45 -719.56 -705.67" transform="translate(904.5,854.4) rotate(398.513) scale(0.9570,1)">MOLASSES</text><text class="l3" x="-862.72 -841.92 -826.19 -812.32 -799.37 -784.22 -777.72 -763.41 -749.16 -732.86 -716.94" transform="translate(904.5,854.4) rotate(402.632) scale(0.9413,1)">MAPLE SYRUP</text><text class="l3" x="-848.25 -831.71 -816.06 -800.41 -782.64 -763.07 -749.24 -736.25 -729.77 -716.26 -701.81" transform="translate(904.5,854.4) rotate(406.751) scale(0.9650,1)">CARAMELIZED</text><text class="l3" x="-729.45 -712.77 -693.95 -677.66 -664.06" transform="translate(904.5,854.4) rotate(410.870) scale(1.0181,1)">HONEY</text><text class="l2" x="-324.5" transform="translate(904.5,854.4) rotate(404.691)" text-anchor="end" textLength="104.63" lengthAdjust="spacingAndGlyphs">BROWN SUGAR</text><text class="l2" x="-324.5" transform="translate(904.5,854.4) rotate(415.400)" text-anchor="end" textLength="58.26" lengthAdjust="spacingAndGlyphs">VANILLA</text><text class="l2" x="-324.5" transform="translate(904.5,854.4) rotate(420.343)" text-anchor="end" textLength="62.75" lengthAdjust="spacingAndGlyphs">VANILLIN</text><text class="l2" x="-324.5" transform="translate(904.5,854.4) rotate(425.286)" text-anchor="end" textLength="111.15" lengthAdjust="spacingAndGlyphs">OVERALL SWEET</text><text class="l2" x="-324.5" transform="translate(904.5,854.4) rotate(430.229)" text-anchor="end" textLength="130.36" lengthAdjust="spacingAndGlyphs">SWEET AROMATICS</text><text class="l1" x="-90.0" transform="translate(904.5,854.4) rotate(414.577)" text-anchor="end" textLength="69.50" lengthAdjust="spacingAndGlyphs">SWEET</text><text class="l2" x="-324.5" transform="translate(904.5,854.4) rotate(435.172)" text-anchor="end" textLength="75.41" lengthAdjust="spacingAndGlyphs">BLACK TEA</text><text class="l3" x="-788.92 -773.04 -757.36 -740.35 -720.28 -701.45 -682.01 -676.84 -664.81" transform="translate(904.5,854.4) rotate(439.703) scale(1.0165,1)">CHAMOMILE</text><text class="l3" x="-768.41 -751.56 -733.40 -719.14" transform="translate(904.5,854.4) rotate(443.822) scale(0.9389,1)">ROSE</text><text class="l3" x="-767.14 -755.00 -739.64 -724.13 -704.46 -697.71 -681.53" transform="translate(904.5,854.4) rotate(447.941) scale(0.9912,1)">JASMINE</text><text class="l2" x="-324.5" transform="translate(904.5,854.4) rotate(443.822)" text-anchor="end" textLength="52.96" lengthAdjust="spacingAndGlyphs">FLORAL</text><text class="l1" x="-89.0" transform="translate(904.5,854.4) rotate(441.350)" text-anchor="end" textLength="81.00" lengthAdjust="spacingAndGlyphs">FLORAL</text></g>
</svg></body></html>
